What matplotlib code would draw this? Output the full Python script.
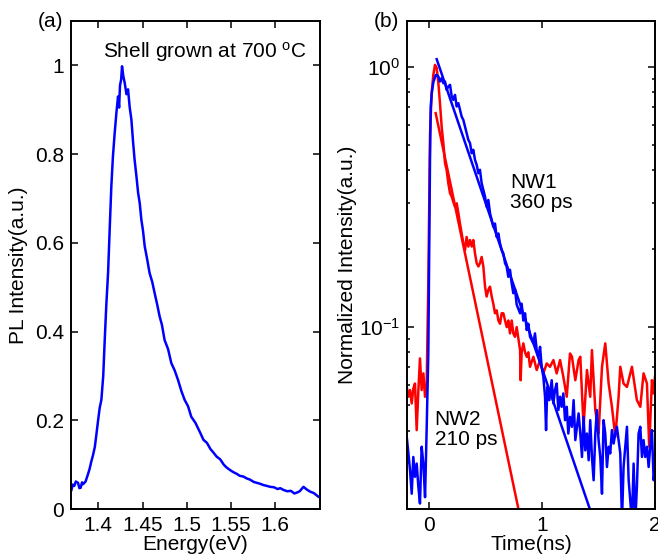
import matplotlib
matplotlib.use("Agg")
import matplotlib.pyplot as plt
from matplotlib.ticker import FixedLocator, FixedFormatter, NullFormatter, LogLocator

plt.rcParams['font.family'] = ['Liberation Sans', 'DejaVu Sans']
plt.rcParams['mathtext.fontset'] = 'custom'
plt.rcParams['mathtext.rm'] = 'Liberation Sans'
plt.rcParams['mathtext.it'] = 'Liberation Sans:italic'
plt.rcParams['mathtext.bf'] = 'Liberation Sans:bold'

# ---------------- Panel (a): PL spectrum ----------------
energy_ev = [1.3695, 1.3710, 1.3727, 1.3745, 1.3770, 1.3785, 1.3800, 1.3815, 1.3827,
             1.3855, 1.3880, 1.3900, 1.3920, 1.3940, 1.3960, 1.3980, 1.3997, 1.4015,
             1.4034, 1.4055, 1.4072, 1.4090, 1.4110, 1.4130, 1.4147, 1.4165, 1.4185,
             1.4205, 1.4223, 1.4235, 1.4245, 1.4258, 1.4268, 1.4283, 1.4298, 1.4318,
             1.4336, 1.4355, 1.4374, 1.4392, 1.4410, 1.4430, 1.4450, 1.4468, 1.4487,
             1.4505, 1.4525, 1.4550, 1.4580, 1.4610, 1.4637, 1.4665, 1.4694, 1.4720,
             1.4750, 1.4790, 1.4826, 1.4865, 1.4902, 1.4940, 1.4977, 1.5015, 1.5052,
             1.5100, 1.5158, 1.5190, 1.5230, 1.5270, 1.5300, 1.5340, 1.5380, 1.5420,
             1.5450, 1.5490, 1.5530, 1.5570, 1.5600, 1.5644, 1.5680, 1.5720, 1.5760,
             1.5796, 1.5830, 1.5870, 1.5910, 1.5946, 1.5990, 1.6030, 1.6060, 1.6097,
             1.6140, 1.6180, 1.6220, 1.6248, 1.6280, 1.6323, 1.6360, 1.6400, 1.6440,
             1.6490]
pl_intensity = [0.043, 0.055, 0.052, 0.062, 0.059, 0.047, 0.048, 0.060, 0.056,
                0.062, 0.077, 0.090, 0.107, 0.122, 0.140, 0.172, 0.200, 0.228,
                0.246, 0.300, 0.381, 0.460, 0.533, 0.640, 0.728, 0.795, 0.848,
                0.895, 0.930, 0.905, 0.955, 0.968, 0.998, 0.975, 0.961, 0.935,
                0.946, 0.905, 0.878, 0.830, 0.788, 0.752, 0.713, 0.690, 0.652,
                0.628, 0.592, 0.566, 0.532, 0.512, 0.487, 0.462, 0.434, 0.415,
                0.381, 0.360, 0.329, 0.312, 0.291, 0.266, 0.246, 0.232, 0.208,
                0.194, 0.170, 0.156, 0.149, 0.135, 0.128, 0.118, 0.112, 0.100,
                0.094, 0.088, 0.083, 0.079, 0.075, 0.073, 0.069, 0.066, 0.061,
                0.059, 0.057, 0.054, 0.052, 0.050, 0.049, 0.045, 0.047, 0.043,
                0.040, 0.041, 0.035, 0.037, 0.040, 0.050, 0.044, 0.039, 0.036,
                0.028]
energy_ticks = [1.4, 1.45, 1.5, 1.55, 1.6]
energy_ticklabels = ['1.4', '1.45', '1.5', '1.55', '1.6']
pl_ticks = [0, 0.2, 0.4, 0.6, 0.8, 1.0]
pl_ticklabels = ['0', '0.2', '0.4', '0.6', '0.8', '1']

# ---------------- Panel (b): time-resolved PL ----------------
nw1_time = [-0.212, -0.197, -0.183, -0.168, -0.153, -0.139, -0.124, -0.109, -0.094,
            -0.080, -0.065, -0.050, -0.035, -0.021, -0.006, 0.009, 0.015, 0.024,
            0.038, 0.059, 0.068, 0.083, 0.097, 0.112, 0.127, 0.142, 0.156, 0.171,
            0.186, 0.201, 0.215, 0.230, 0.245, 0.260, 0.274, 0.289, 0.304, 0.319,
            0.333, 0.348, 0.363, 0.378, 0.392, 0.407, 0.422, 0.437, 0.451, 0.466,
            0.481, 0.496, 0.510, 0.525, 0.540, 0.555, 0.569, 0.584, 0.599, 0.614,
            0.628, 0.643, 0.658, 0.673, 0.687, 0.702, 0.717, 0.732, 0.746, 0.761,
            0.776, 0.806, 0.820, 0.835, 0.850, 0.865, 0.879, 0.894, 0.924, 0.938,
            0.953, 0.968, 0.983, 0.997, 1.012, 1.027, 1.036, 1.047, 1.065, 1.086,
            1.101, 1.115, 1.130, 1.145, 1.160, 1.174, 1.189, 1.204, 1.219, 1.233,
            1.248, 1.265, 1.280, 1.295, 1.324, 1.339, 1.354, 1.368, 1.383, 1.398,
            1.413, 1.427, 1.442, 1.457, 1.472, 1.486, 1.501, 1.516, 1.531, 1.545,
            1.560, 1.575, 1.590, 1.604, 1.619, 1.634, 1.649, 1.663, 1.678, 1.693,
            1.708, 1.722, 1.737, 1.752, 1.767, 1.781, 1.796, 1.811, 1.826, 1.840,
            1.855, 1.870, 1.885, 1.899, 1.914, 1.929, 1.944, 1.958, 1.973, 1.988,
            2.003]
nw1_intensity = [0.030, 0.0378, 0.0330, 0.0282, 0.0229, 0.0317, 0.0266, 0.0299, 0.0243,
                 0.0210, 0.0347, 0.0299, 0.0222, 0.0402, 0.0800, 0.450, 0.700, 0.790,
                 0.870, 0.930, 0.930, 0.918, 0.878, 0.905, 0.865, 0.878, 0.816, 0.840,
                 0.853, 0.769, 0.747, 0.780, 0.704, 0.725, 0.684, 0.644, 0.625, 0.589,
                 0.556, 0.524, 0.509, 0.466, 0.480, 0.439, 0.420, 0.390, 0.402, 0.357,
                 0.336, 0.317, 0.290, 0.308, 0.274, 0.258, 0.243, 0.250, 0.222, 0.229,
                 0.210, 0.198, 0.192, 0.176, 0.171, 0.156, 0.166, 0.147, 0.135, 0.140,
                 0.122, 0.113, 0.123, 0.106, 0.113, 0.0974, 0.103, 0.0918, 0.0866, 0.0946,
                 0.0816, 0.0769, 0.0840, 0.0704, 0.0644, 0.0540, 0.0402, 0.0589, 0.0524, 0.0625,
                 0.0509, 0.0573, 0.0607, 0.0480, 0.0540, 0.0494, 0.0556, 0.0439, 0.0494, 0.0390,
                 0.0452, 0.0414, 0.0524, 0.0368, 0.0466, 0.0390, 0.0317, 0.0452, 0.0336, 0.0390,
                 0.0308, 0.0439, 0.0317, 0.0258, 0.0390, 0.0480, 0.0368, 0.0317, 0.0229, 0.0439,
                 0.0390, 0.0290, 0.0347, 0.0327, 0.0402, 0.0357, 0.0390, 0.0414, 0.0368, 0.0327,
                 0.0180, 0.0290, 0.0347, 0.0414, 0.0258, 0.0216, 0.0180, 0.0299, 0.0180, 0.0243,
                 0.0390, 0.0414, 0.0317, 0.0368, 0.0317, 0.0347, 0.0290, 0.0347, 0.0402, 0.0258,
                 0.0290]
nw2_time = [-0.212, -0.197, -0.183, -0.168, -0.153, -0.139, -0.124, -0.109, -0.094,
            -0.080, -0.065, -0.050, -0.035, -0.021, -0.006, 0.009, 0.024, 0.038,
            0.053, 0.068, 0.083, 0.097, 0.112, 0.127, 0.142, 0.156, 0.171, 0.186,
            0.201, 0.215, 0.230, 0.245, 0.260, 0.274, 0.289, 0.304, 0.319, 0.333,
            0.348, 0.363, 0.378, 0.392, 0.407, 0.422, 0.437, 0.451, 0.466, 0.481,
            0.496, 0.510, 0.525, 0.540, 0.555, 0.569, 0.584, 0.599, 0.614, 0.629,
            0.643, 0.658, 0.673, 0.688, 0.702, 0.717, 0.732, 0.746, 0.761, 0.776,
            0.806, 0.811, 0.820, 0.835, 0.850, 0.865, 0.879, 0.894, 0.924, 0.953,
            0.983, 1.012, 1.042, 1.071, 1.101, 1.130, 1.160, 1.189, 1.219, 1.248,
            1.265, 1.295, 1.324, 1.339, 1.368, 1.398, 1.427, 1.442, 1.472, 1.501,
            1.531, 1.560, 1.590, 1.619, 1.649, 1.678, 1.693, 1.722, 1.752, 1.796,
            1.840, 1.870, 1.899, 1.929, 1.949, 1.973, 1.988, 2.000]
nw2_intensity = [0.0600, 0.0590, 0.0540, 0.0573, 0.0509, 0.0580, 0.0607, 0.0402, 0.0573,
                 0.0758, 0.0573, 0.0664, 0.0540, 0.0590, 0.150, 0.550, 0.800, 0.930,
                 1.018, 0.990, 0.865, 0.725, 0.589, 0.509, 0.426, 0.402, 0.357, 0.327,
                 0.317, 0.303, 0.290, 0.299, 0.274, 0.250, 0.229, 0.210, 0.198, 0.222,
                 0.204, 0.216, 0.204, 0.216, 0.192, 0.176, 0.171, 0.176, 0.186, 0.171,
                 0.143, 0.131, 0.139, 0.143, 0.131, 0.123, 0.113, 0.116, 0.106, 0.103,
                 0.113, 0.113, 0.106, 0.100, 0.106, 0.0946, 0.106, 0.0946, 0.0918, 0.100,
                 0.0816, 0.0625, 0.0800, 0.0866, 0.0800, 0.0769, 0.0800, 0.0704, 0.0769, 0.0684,
                 0.0747, 0.0664, 0.0725, 0.0704, 0.0747, 0.0664, 0.0747, 0.0644, 0.0540, 0.0792,
                 0.0770, 0.0625, 0.0747, 0.0769, 0.0414, 0.0684, 0.0540, 0.0816, 0.0480, 0.0390,
                 0.0704, 0.0866, 0.0607, 0.0494, 0.0379, 0.0540, 0.0704, 0.0607, 0.0589, 0.0704,
                 0.0524, 0.0494, 0.0664, 0.0607, 0.0347, 0.0625, 0.0556, 0.0644]
# single-exponential fits (straight lines on the log axis), endpoints
nw1_fit_time = [0.068, 1.45]
nw1_fit_intensity = [1.07, 0.0185]
nw2_fit_time = [0.059, 0.80]
nw2_fit_intensity = [0.664, 0.0192]
time_ticks = [0, 1, 2]

BLUE = (0, 0, 1)
RED = (1, 0, 0)
FS = 15
LW = 1.8

fig = plt.figure(figsize=(6.58, 5.56), dpi=100)
ax1 = fig.add_axes([0.1079, 0.0845, 0.3784, 0.8777])
ax2 = fig.add_axes([0.6185, 0.0845, 0.3769, 0.8777])

# Panel (a)
ax1.plot(energy_ev, pl_intensity, color=BLUE, lw=LW)
ax1.set_xlim(1.369, 1.651)
ax1.set_ylim(0, 1.1)
ax1.xaxis.set_major_locator(FixedLocator(energy_ticks))
ax1.xaxis.set_major_formatter(FixedFormatter(energy_ticklabels))
ax1.yaxis.set_major_locator(FixedLocator(pl_ticks))
ax1.yaxis.set_major_formatter(FixedFormatter(pl_ticklabels))
ax1.set_xlabel('Energy(eV)', fontsize=FS, labelpad=0)
ax1.set_ylabel('PL Intensity(a.u.)', fontsize=FS, labelpad=5)
ax1.text(1.4055, 1.018, 'Shell grown at 700 $^{\\mathrm{o}}$C', fontsize=FS,
         ha='left', va='baseline')
fig.text(0.076, 0.962, '(a)', fontsize=FS, ha='center', va='center')

# Panel (b)
ax2.plot(nw2_time, nw2_intensity, color=RED, lw=LW)
ax2.plot(nw2_fit_time, nw2_fit_intensity, color=RED, lw=LW)
ax2.plot(nw1_time, nw1_intensity, color=BLUE, lw=LW)
ax2.plot(nw1_fit_time, nw1_fit_intensity, color=BLUE, lw=LW)
ax2.set_yscale('log')
ax2.set_xlim(-0.195, 2.0)
ax2.set_ylim(0.02, 1.5)
ax2.xaxis.set_major_locator(FixedLocator(time_ticks))
ax2.yaxis.set_major_locator(LogLocator(base=10, numticks=10))
ax2.yaxis.set_minor_locator(LogLocator(base=10, subs=range(2, 10), numticks=10))
ax2.yaxis.set_minor_formatter(NullFormatter())
ax2.set_xlabel('Time(ns)', fontsize=FS, labelpad=0)
ax2.set_ylabel('Normalized Intensity(a.u.)', fontsize=FS, labelpad=1)
ax2.text(0.72, 0.33, 'NW1\n360 ps', fontsize=FS, ha='left', va='center', linespacing=1.05)
ax2.text(0.05, 0.0405, 'NW2\n210 ps', fontsize=FS, ha='left', va='center', linespacing=1.05)
fig.text(0.588, 0.962, '(b)', fontsize=FS, ha='center', va='center')

for ax in (ax1, ax2):
    for sp in ax.spines.values():
        sp.set_linewidth(1.4)
    ax.tick_params(which='both', direction='in', top=True, right=True,
                   labelsize=FS, width=1.1)
    ax.tick_params(which='major', length=5, pad=5)
    ax.tick_params(which='minor', length=2.5)

fig.savefig('out.png', dpi=100)
